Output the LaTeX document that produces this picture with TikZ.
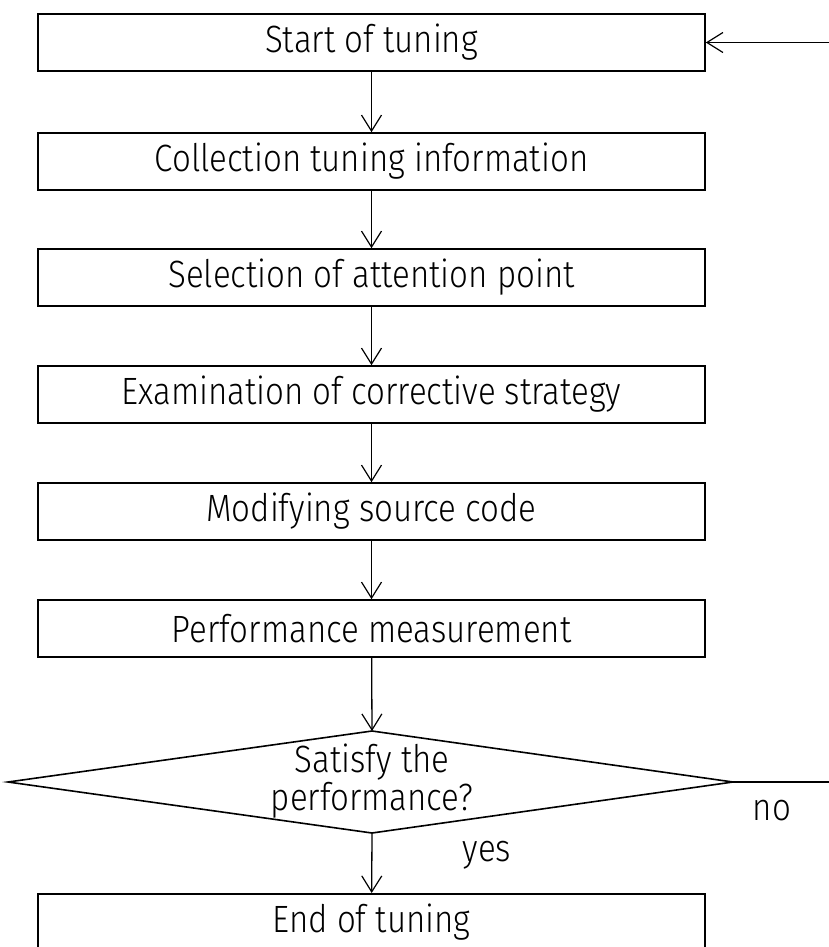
\documentclass[tikz,border=0pt]{standalone}
\usepackage{fontspec}
\setmainfont[FakeStretch=0.87]{Fira Sans Light}
\usetikzlibrary{arrows.meta,shapes.geometric}
\begin{document}
\begin{tikzpicture}[x=1pt,y=-1pt,
  stepbox/.style={draw,line width=1.6pt,minimum width=667pt,minimum height=57pt,inner sep=0pt,font=\fontsize{38}{38}\selectfont},
  conn/.style={line width=1.3pt,-{Straight Barb[length=16pt,width=20pt,line width=1.2pt]}},
  lbl/.style={font=\fontsize{38}{38}\selectfont,inner sep=0pt}]
\useasboundingbox (0,0) rectangle (829,947);
\node[stepbox] (s1) at (371.5,42.5) {Start of tuning};
\node[stepbox] (s2) at (371.5,161.5) {Collection tuning information};
\node[stepbox] (s3) at (371.5,277.5) {Selection of attention point};
\node[stepbox] (s4) at (371.5,394.5) {Examination of corrective strategy};
\node[stepbox] (s5) at (371.5,511.5) {Modifying source code};
\node[stepbox] (s6) at (371.5,628.5) {Performance measurement};
\node[stepbox,anchor=north] (s7) at (371.5,893) {End of tuning};
\coordinate (dt) at (372,731);
\coordinate (db) at (372,833);
\coordinate (dl) at (8,782);
\coordinate (dr) at (733,782);
\draw[line width=1.6pt] (dt) -- (dr) -- (db) -- (dl) -- cycle;
\node[lbl,align=center] (dtext) at (372,781) {Satisfy the\\performance?};
\coordinate (loopin) at (829,42.5);
\coordinate (loopout) at (829,782);
\draw[conn] (loopin) -- (s1.east);
\draw[line width=1.3pt] (dr) -- (loopout);
\draw[conn] (s1) -- (s2);
\draw[conn] (s2) -- (s3);
\draw[conn] (s3) -- (s4);
\draw[conn] (s4) -- (s5);
\draw[conn] (s5) -- (s6);
\draw[conn] (s6) -- (dt);
\draw[conn] (db) -- (s7);
\node[lbl] (no) at (772,811) {no};
\node[lbl] (yes) at (487,855) {yes};
\end{tikzpicture}
\end{document}
